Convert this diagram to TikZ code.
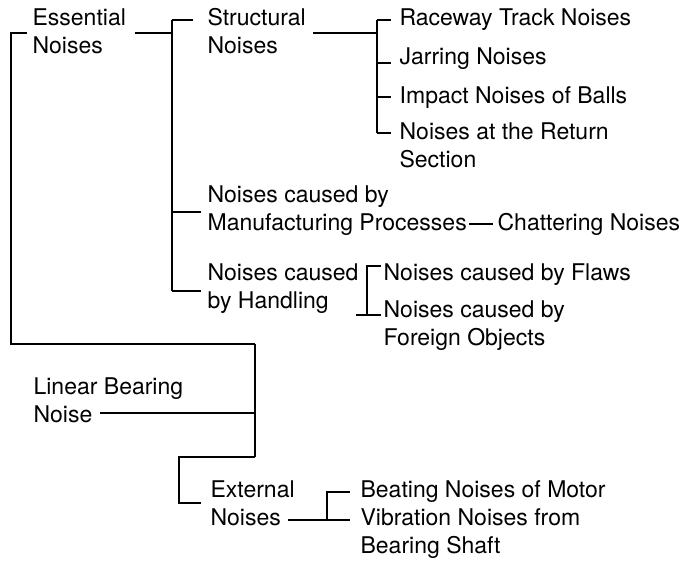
\documentclass[tikz,border=0pt]{standalone}
\usepackage{fontspec}
\setmainfont{TeX Gyre Heros}
\usetikzlibrary{calc}

\begin{document}
\begin{tikzpicture}[x=1pt,y=-1pt,line width=1.2pt,
lbl/.style={anchor=base west, inner sep=0pt, align=left, font=\fontsize{23}{27.5}\selectfont}]
	\useasboundingbox (0,0) rectangle (682,560);
	\node[lbl] (ess) at (32,53) {Essential\\Noises};
	\node[lbl] (str) at (207,53) {Structural\\Noises};
	\node[lbl] (rtn) at (399,25) {Raceway Track Noises};
	\node[lbl] (jar) at (399,64) {Jarring Noises};
	\node[lbl] (imp) at (399,103) {Impact Noises of Balls};
	\node[lbl] (ret) at (399,167) {Noises at the Return\\Section};
	\node[lbl] (mfg) at (207,230) {Noises caused by\\Manufacturing Processes};
	\node[lbl] (cha) at (497,230) {Chattering Noises};
	\node[lbl] (hdl) at (207,308) {Noises caused\\by Handling};
	\node[lbl] (flw) at (383,280) {Noises caused by Flaws};
	\node[lbl] (frg) at (383,345) {Noises caused by\\Foreign Objects};
	\node[lbl] (lbn) at (33,422) {Linear Bearing\\Noise};
	\node[lbl] (ext) at (210,525) {External\\Noises};
	\node[lbl] (bnm) at (360,497) {Beating Noises of Motor};
	\node[lbl] (vnb) at (360,553) {Vibration Noises from\\Bearing Shaft};
	
	\coordinate (t0) at (255,413);
	\coordinate (t1) at (255,344);
	\coordinate (t2) at (255,457);
	\coordinate (ec) at (11,33);
	\coordinate (xc) at (179,503);
	\coordinate (e0) at (172,33);
	\coordinate (e1) at (172,20);
	\coordinate (e2) at (172,212);
	\coordinate (e3) at (172,291);
	\coordinate (s0) at (377,33);
	\coordinate (s1) at (377,20);
	\coordinate (s2) at (377,63);
	\coordinate (s3) at (377,97);
	\coordinate (s4) at (377,133);
	\coordinate (h1) at (367,266);
	\coordinate (h2) at (367,315);
	\coordinate (x1) at (327,492);
	\coordinate (x2) at (327,520);
	
	\draw ([xshift=67pt]lbn.west |- t0) -- (t0);
	\draw (t1) -- (t2);
	\draw (t1) -| (ec) -- ([xshift=-5pt]ec -| ess.west);
	\draw (t2) -| (xc) -- ([xshift=-9pt]xc -| ext.west);
	
	\draw ([xshift=8pt]ess.east |- e0) -- (e0);
	\draw (e1) -- (e3);
	\draw (e1) -- ([xshift=-14pt]e1 -| str.west);
	\draw (e2) -- ([xshift=-6pt]e2 -| mfg.west);
	\draw (e3) -- ([xshift=-6pt]e3 -| hdl.west);
	
	\draw ([xshift=7pt]str.east |- s0) -- (s0);
	\draw (s1) -- (s4);
	\foreach \c/\n in {s1/rtn,s2/jar,s3/imp,s4/ret}
		\draw (\c) -- ([xshift=-8pt]\c -| \n.west);
	
	\draw ([xshift=2pt]mfg.east |- cha.west) -- ([xshift=-4pt]cha.west);
	
	\draw ([xshift=-3pt]hdl.east |- h2) -- ([xshift=-2pt]h2 -| frg.west);
	\draw (h2) -- (h1) -- ([xshift=-2pt]h1 -| flw.west);
	
	\draw ([xshift=-7pt]ext.east |- x2) -- ([xshift=-10pt]x2 -| vnb.west);
	\draw (x2) -- (x1) -- ([xshift=-10pt]x1 -| bnm.west);
\end{tikzpicture}
\end{document}
